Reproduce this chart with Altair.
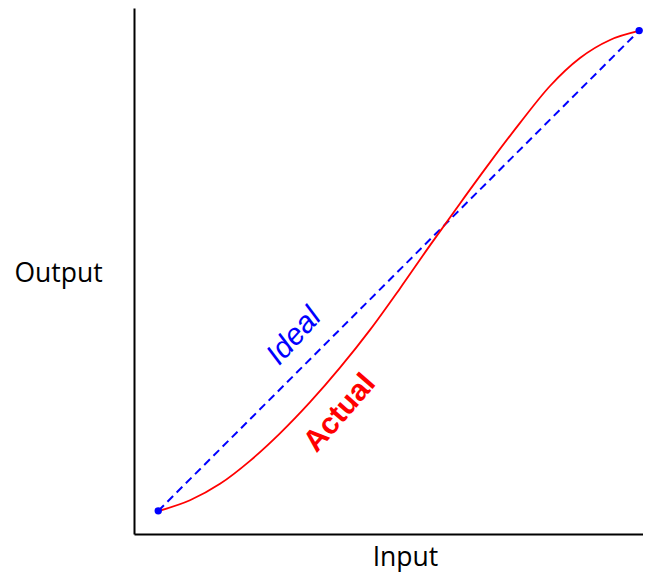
import altair as alt
import pandas as pd

# Ideal (straight) response: endpoints
ideal_input = [4.7, 97.9]
ideal_output = [4.4, 95.7]

# Actual (nonlinear) response
actual_input = [4.71, 10.85, 16.67, 22.48, 28.29, 34.11, 39.92, 45.74, 51.55,
                57.36, 63.18, 68.99, 74.81, 80.62, 86.43, 92.25, 97.87]
actual_output = [4.37, 6.41, 9.54, 13.91, 19.13, 25.06, 31.62, 38.80, 46.69,
                 54.87, 62.85, 70.65, 78.16, 85.17, 90.49, 93.92, 95.63]

# Curve labels
label_text = ["Ideal", "Actual"]
label_input = [31.0, 39.9]
label_output = [37.6, 23.0]

ideal_df = pd.DataFrame({"Input": ideal_input, "Output": ideal_output})
actual_df = pd.DataFrame({"Input": actual_input, "Output": actual_output})

xs = alt.Scale(domain=[0, 98.64], nice=False, zero=False)
ys = alt.Scale(domain=[0, 100], nice=False, zero=False)

x_axis = alt.Axis(
    title="Input", ticks=False, labels=False, grid=False,
    domainColor="black", domainWidth=2,
    titleFont="Open Sans", titleFontSize=26.5, titleFontWeight="normal",
    titleColor="black", titleAlign="center", titleBaseline="middle",
    titleX=271, titleY=23,
)
y_axis = alt.Axis(
    title="Output", ticks=False, labels=False, grid=False,
    domainColor="black", domainWidth=2,
    titleFont="Open Sans", titleFontSize=26.5, titleFontWeight="normal",
    titleColor="black", titleAngle=0, titleAlign="center", titleBaseline="middle",
    titleX=-76, titleY=265,
)

ideal_line = alt.Chart(ideal_df).mark_line(
    color="#0000ff", strokeWidth=2, strokeDash=[8, 5]
).encode(
    x=alt.X("Input:Q", scale=xs, axis=x_axis),
    y=alt.Y("Output:Q", scale=ys, axis=y_axis),
)

actual_line = alt.Chart(actual_df).mark_line(
    color="#ff0000", strokeWidth=1.8, interpolate="monotone"
).encode(
    x=alt.X("Input:Q", scale=xs),
    y=alt.Y("Output:Q", scale=ys),
)

end_points = alt.Chart(ideal_df).mark_circle(
    color="#0000ff", opacity=1, size=55
).encode(
    x=alt.X("Input:Q", scale=xs),
    y=alt.Y("Output:Q", scale=ys),
)

ideal_label = alt.Chart(pd.DataFrame({
    "Input": [label_input[0]], "Output": [label_output[0]], "t": [label_text[0]]
})).mark_text(
    font="Liberation Sans", fontSize=30, fontStyle="italic", color="#0000ff",
    angle=312, align="center", baseline="middle"
).encode(
    x=alt.X("Input:Q", scale=xs),
    y=alt.Y("Output:Q", scale=ys),
    text="t:N",
)

actual_label = alt.Chart(pd.DataFrame({
    "Input": [label_input[1]], "Output": [label_output[1]], "t": [label_text[1]]
})).mark_text(
    font="Liberation Sans", fontSize=30, fontWeight="bold", color="#ff0000",
    angle=311, align="center", baseline="middle"
).encode(
    x=alt.X("Input:Q", scale=xs),
    y=alt.Y("Output:Q", scale=ys),
    text="t:N",
)

chart = alt.layer(
    ideal_line, actual_line, end_points, ideal_label, actual_label
).properties(
    width=509, height=526,
    background="white",
    autosize=alt.AutoSizeParams(type="none"),
    padding={"left": 126, "top": 0, "right": 0, "bottom": 38},
).configure_view(stroke=None).configure_axis(grid=False)

chart.save("out.html", embed_options={"renderer": "svg", "actions": False})
